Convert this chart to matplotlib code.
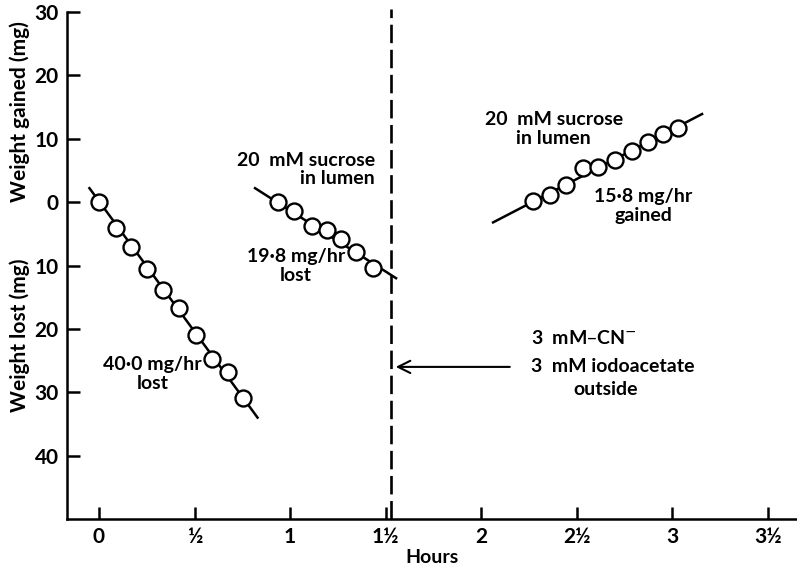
import numpy as np
import matplotlib.pyplot as plt

plt.rcParams['font.family'] = ['Lato', 'DejaVu Sans']

# hours, weight change (mg); positive = gained, negative = lost
t1 = [0.0, 0.09, 0.17, 0.25, 0.335, 0.42, 0.51, 0.59, 0.675, 0.755]
w1 = [0.0, -4.1, -7.1, -10.6, -13.9, -16.7, -21.0, -24.8, -26.8, -30.9]
t2 = [0.937, 1.021, 1.115, 1.194, 1.267, 1.346, 1.435]
w2 = [0.0, -1.4, -3.8, -4.4, -5.8, -7.9, -10.4]
t3 = [2.272, 2.361, 2.445, 2.534, 2.613, 2.702, 2.791, 2.874, 2.953, 3.031]
w3 = [0.2, 1.1, 2.7, 5.4, 5.5, 6.6, 8.0, 9.5, 10.7, 11.7]

# fitted lines (end points)
fit1_t = [-0.05, 0.83]
fit1_w = [2.2, -34.0]
fit2_t = [0.817, 1.555]
fit2_w = [2.2, -12.0]
fit3_t = [2.063, 3.157]
fit3_w = [-3.2, 13.9]

xticks = [0, 0.5, 1, 1.5, 2, 2.5, 3, 3.5]
xticklabels = ['0', '½', '1', '1½', '2', '2½', '3', '3½']
yticks = [30, 20, 10, 0, -10, -20, -30, -40]
yticklabels = ['30', '20', '10', '0', '10', '20', '30', '40']
poison_t = 1.529

fig = plt.figure(figsize=(7.97, 5.72), dpi=100)
ax = fig.add_axes([67 / 797, 1 - 519 / 572, 1 - 67 / 797, 507 / 572])

for ft, fw in [(fit1_t, fit1_w), (fit2_t, fit2_w), (fit3_t, fit3_w)]:
    ax.plot(ft, fw, color='black', lw=1.8, zorder=2)
for t, w in [(t1, w1), (t2, w2), (t3, w3)]:
    ax.plot(t, w, 'o', ms=11.5, mfc='white', mec='black', mew=1.7, zorder=3)

ax.plot([poison_t, poison_t], [-50, 30.5], color='black', lw=1.9,
        dashes=(7, 2.5), clip_on=False)
ax.annotate('', xy=(poison_t + 0.01, -26.0), xytext=(2.165, -26.0),
            arrowprops=dict(arrowstyle='->', color='black', lw=1.5,
                            mutation_scale=22))

fs = 14
fw_ = 'bold'
ax.text(0.28, -24.3, '40·0 mg/hr\nlost', ha='center', va='top', fontsize=fs,
        fontweight=fw_, linespacing=1.1)
ax.text(1.445, 7.9, '20  mM sucrose\nin lumen', ha='right', va='top',
        fontsize=fs, fontweight=fw_, multialignment='right',
        linespacing=1.1)
ax.text(1.03, -7.3, '19·8 mg/hr\nlost', ha='center', va='top', fontsize=fs,
        fontweight=fw_, linespacing=1.1)
ax.text(2.38, 14.3, '20  mM sucrose\nin lumen', ha='center', va='top',
        fontsize=fs, fontweight=fw_, linespacing=1.1)
ax.text(2.85, 2.2, '15·8 mg/hr\ngained', ha='center', va='top', fontsize=fs,
        fontweight=fw_, linespacing=1.1)
ax.text(2.26, -21.45, '3  mM–CN$^{-}$', ha='left', va='center', fontsize=fs,
        fontweight=fw_)
ax.text(2.26, -26.0, '3  mM iodoacetate', ha='left', va='center',
        fontsize=fs, fontweight=fw_)
ax.text(2.65, -29.5, 'outside', ha='center', va='center',
        fontsize=fs, fontweight=fw_)

ax.set_xlim(-0.1675, 3.654)
ax.set_ylim(-50, 30)
ax.set_xticks(xticks)
ax.set_xticklabels(xticklabels, fontsize=15, fontweight='bold')
ax.set_yticks(yticks)
ax.set_yticklabels(yticklabels, fontsize=15, fontweight='bold')
ax.tick_params(direction='in', length=9, width=1.8, pad=6)
ax.spines['top'].set_visible(False)
ax.spines['right'].set_visible(False)
ax.spines['left'].set_linewidth(1.8)
ax.spines['bottom'].set_linewidth(1.8)
ax.set_xlabel('Hours', fontsize=14, fontweight='bold', labelpad=1)

fig.text(20 / 797, 1 - 112 / 572, 'Weight gained (mg)', rotation=90,
         ha='center', va='center', fontsize=15, fontweight='bold')
fig.text(20 / 797, 1 - 335 / 572, 'Weight lost (mg)', rotation=90,
         ha='center', va='center', fontsize=15, fontweight='bold')

fig.savefig('out.png', dpi=100)
